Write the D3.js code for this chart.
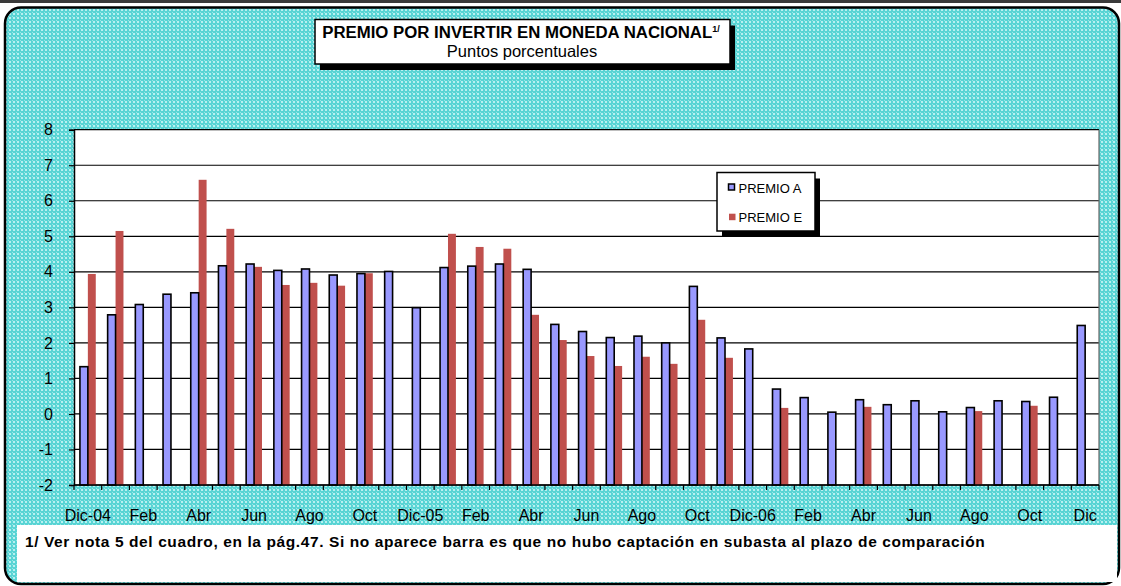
<!DOCTYPE html>
<html><head><meta charset="utf-8">
<script src="https://cdn.jsdelivr.net/npm/d3@7"></script>
<style>
body{margin:0;background:#fff}
svg{display:block}
text{font-family:Arial,"Liberation Sans",sans-serif;fill:#000}
</style>
</head><body>
<svg id="c" width="1121" height="586"></svg>
<script>
// ---- data ----
const months = ["Dic-04","Ene","Feb","Mar","Abr","May","Jun","Jul","Ago","Sep","Oct","Nov",
  "Dic-05","Ene","Feb","Mar","Abr","May","Jun","Jul","Ago","Sep","Oct","Nov",
  "Dic-06","Ene","Feb","Mar","Abr","May","Jun","Jul","Ago","Sep","Oct","Nov","Dic"];
const premioA = [1.33,2.79,3.08,3.37,3.41,4.17,4.22,4.04,4.08,3.91,3.95,4.01,
  2.99,4.12,4.16,4.22,4.07,2.52,2.32,2.15,2.19,2.00,3.59,2.14,
  1.83,0.70,0.46,0.05,0.40,0.26,0.37,0.06,0.18,0.37,0.35,0.47,2.49];
const premioE = [3.94,5.15,null,null,6.59,5.21,4.14,3.63,3.69,3.61,3.96,null,
  null,5.07,4.70,4.65,2.79,2.08,1.63,1.35,1.61,1.41,2.65,1.58,
  null,0.17,null,null,0.20,null,null,null,0.08,null,0.23,null,null];
const yTicks = [-2,-1,0,1,2,3,4,5,6,7,8];
const seriesNames = ["PREMIO A","PREMIO E"];
const titleText = "PREMIO POR INVERTIR EN MONEDA NACIONAL";
const subtitleText = "Puntos porcentuales";
const footnoteText = "1/ Ver nota 5 del cuadro, en la pág.47. Si no aparece barra es que no hubo captación en subasta al plazo de comparación";

// ---- layout ----
const svg = d3.select("#c");
const L = 74, R = 1099, T = 129.7, B = 485;
const colA = "#9999ff", colE = "#c0504d";

// pattern background
const defs = svg.append("defs");
const pat = defs.append("pattern").attr("id","bg").attr("patternUnits","userSpaceOnUse")
  .attr("width",4).attr("height",4);
pat.append("rect").attr("width",4).attr("height",4).attr("fill","#58d4d4");
pat.append("rect").attr("x",1).attr("y",1).attr("width",2).attr("height",2).attr("fill","#b8f0f0");
pat.append("rect").attr("x",0).attr("y",0).attr("width",1).attr("height",1).attr("fill","#98e6e6");

// top dark bar
svg.append("rect").attr("x",0).attr("y",0).attr("width",1121).attr("height",3).attr("fill","#3a3a3a");
// frame
svg.append("rect").attr("x",5).attr("y",7.5).attr("width",1114).attr("height",576.5)
  .attr("rx",16).attr("fill","url(#bg)").attr("stroke","#000").attr("stroke-width",2.5);

// plot area
svg.append("rect").attr("x",L).attr("y",T).attr("width",R-L).attr("height",B-T).attr("fill","#fff");

const x = d3.scaleBand().domain(d3.range(months.length)).range([L,R]).paddingInner(0).paddingOuter(0);
const xs = d3.scaleBand().domain(["A","E"]).range([0,x.bandwidth()]).paddingInner(0).paddingOuter(0.75);
const y = d3.scaleLinear().domain([-2,8]).range([B,T]);

// gridlines
svg.append("g").selectAll("line").data(yTicks).join("line")
  .attr("x1",L).attr("x2",R).attr("y1",d=>y(d)).attr("y2",d=>y(d))
  .attr("stroke","#000").attr("stroke-width",1.2);
// right border
svg.append("line").attr("x1",R).attr("x2",R).attr("y1",T).attr("y2",B).attr("stroke","#666").attr("stroke-width",1.2);

// bars
const base = y(-2);
svg.append("g").selectAll("rect").data(premioE.map((v,i)=>({v,i})).filter(d=>d.v!=null)).join("rect")
  .attr("x",d=>x(d.i)+xs("E")).attr("width",xs.bandwidth())
  .attr("y",d=>y(d.v)).attr("height",d=>base-y(d.v)).attr("fill",colE);
svg.append("g").selectAll("rect").data(premioA.map((v,i)=>({v,i})).filter(d=>d.v!=null)).join("rect")
  .attr("x",d=>x(d.i)+xs("A")).attr("width",xs.bandwidth())
  .attr("y",d=>y(d.v)).attr("height",d=>base-y(d.v)).attr("fill",colA)
  .attr("stroke","#000").attr("stroke-width",1.6);

// y axis
const yAxis = d3.axisLeft(y).tickValues(yTicks).tickSize(5).tickPadding(16).tickFormat(d=>String(d));
const gy = svg.append("g").attr("transform",`translate(${L},0)`).call(yAxis);
gy.select(".domain").attr("stroke","#000").attr("stroke-width",1.5);
gy.selectAll(".tick line").attr("stroke","#000").attr("stroke-width",1.2);
gy.selectAll("text").attr("font-size",16).attr("font-family","Arial, 'Liberation Sans', sans-serif");

// x axis: ticks at category boundaries
const bounds = d3.range(months.length+1).map(i => i<months.length ? x(i) : R);
svg.append("g").selectAll("line").data(bounds).join("line")
  .attr("x1",d=>d).attr("x2",d=>d).attr("y1",B).attr("y2",B+5)
  .attr("stroke","#000").attr("stroke-width",1.2);
svg.append("line").attr("x1",L).attr("x2",R).attr("y1",B).attr("y2",B).attr("stroke","#000").attr("stroke-width",1.5);
svg.append("g").selectAll("text").data(months.map((m,i)=>({m,i})).filter(d=>d.i%2===0)).join("text")
  .attr("x",d=>x(d.i)+x.bandwidth()/2).attr("y",521).attr("text-anchor","middle")
  .attr("font-size",16).text(d=>d.m);

// title box
svg.append("rect").attr("x",320).attr("y",25.5).attr("width",415).attr("height",44.5).attr("fill","#000");
svg.append("rect").attr("x",315).attr("y",19.5).attr("width",415).attr("height",44.5)
  .attr("fill","#fff").attr("stroke","#000").attr("stroke-width",1.5);
const tt = svg.append("text").attr("x",521).attr("y",38.3).attr("text-anchor","middle")
  .attr("font-size",16.8).attr("font-weight","bold");
tt.append("tspan").text(titleText);
tt.append("tspan").attr("dy",-6).attr("font-size",9).text("1/");
svg.append("text").attr("x",522).attr("y",56.7).attr("text-anchor","middle").attr("font-size",16.5).text(subtitleText);

// legend
svg.append("rect").attr("x",722).attr("y",178.5).attr("width",98).attr("height",58.5).attr("fill","#000");
svg.append("rect").attr("x",717).attr("y",172.5).attr("width",98).attr("height",58.5)
  .attr("fill","#fff").attr("stroke","#000").attr("stroke-width",1.5);
const leg = svg.append("g").selectAll("g").data(seriesNames).join("g")
  .attr("transform",(d,i)=>`translate(0,${188.5+i*28.7})`);
leg.append("rect").attr("x",(d,i)=>i===0?728.5:729).attr("y",(d,i)=>i===0?-4.5:-3.5)
  .attr("width",(d,i)=>i===0?6:6.5).attr("height",(d,i)=>i===0?6:6.5)
  .attr("fill",(d,i)=>i===0?colA:colE)
  .attr("stroke",(d,i)=>i===0?"#000":"none").attr("stroke-width",1.5);
leg.append("text").attr("x",738.5).attr("y",4.5).attr("font-size",13).text(d=>d);

// footnote
svg.append("rect").attr("x",17).attr("y",525).attr("width",1100).attr("height",57).attr("fill","#fff");
svg.append("text").attr("x",25).attr("y",547).attr("font-size",15.5).attr("letter-spacing",0.6)
  .attr("font-weight","bold").text(footnoteText);
</script>
</body></html>
